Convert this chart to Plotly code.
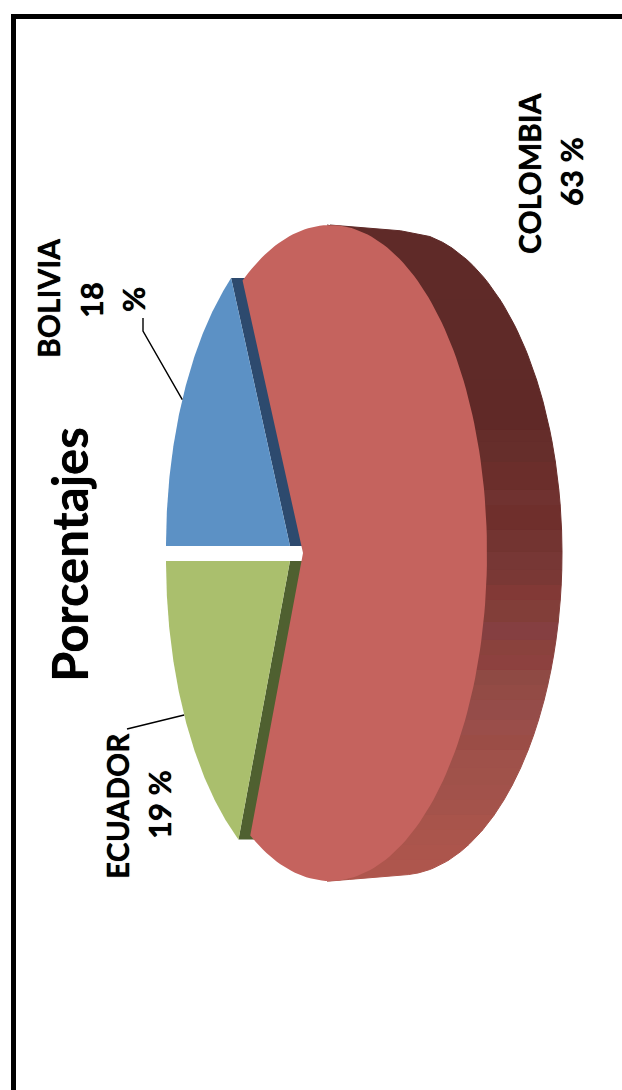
import numpy as np
import plotly.graph_objects as go

# ---- data ----
countries = ["BOLIVIA", "ECUADOR", "COLOMBIA"]
shares = [18, 19, 63]
title_text = "Porcentajes"

# ---- drawing styles ----
top_colors = {"BOLIVIA": "#5c91c5", "ECUADOR": "#aabf6d", "COLOMBIA": "#c5635e"}
wall_colors = {"BOLIVIA": "#2d4a6e", "ECUADOR": "#4f6030"}
FONT = "Lato"

# perspective frame of each slice: left edge, apex, right edge, half height, centre y (pixels)
frames = {
    "BOLIVIA": (166, 290, 484, 332, 546),
    "ECUADOR": (166, 290, 484, 332, 561),
    "COLOMBIA": (173, 303, 487, 328, 553),
}
BACK_RIGHT = 562
BACK_HALF_W, BACK_HALF_H = 162, 322

band_edges = [222, 300, 380, 430, 442, 462, 490, 505, 530, 552, 570, 585, 600, 622, 640, 655, 670,
              685, 700, 720, 735, 750, 768, 785, 800, 815, 830, 845, 860, 885]
band_colors = ["#5f2a28", "#5f2a28", "#602927", "#652d2a", "#662e2b", "#6b2e2b", "#703230", "#6f2f2c",
               "#733431", "#773735", "#7a3835", "#823936", "#823e39", "#853f41", "#8a423d", "#8d413f",
               "#8f4a44", "#934b45", "#954c49", "#9a4e4a", "#9b4d46", "#9f514a", "#a0524a", "#a2524b",
               "#a4534b", "#a8544b", "#aa554c", "#ac554c", "#ae564d"]


def project(frame, px, py):
    left, apex, right, half_h, cy = frame
    k = (2 * apex - left - right) / (right - left)
    a = apex - left * (1 - k)
    b = half_h * np.sqrt(1 - k * k)
    d = 1 + k * px
    return (apex + a * px) / d, cy - b * py / d


def wedge(frame, start, end, n=160):
    th = np.radians(np.linspace(start, end, n))
    x, y = project(frame, np.cos(th), np.sin(th))
    ax, ay = project(frame, 0.0, 0.0)
    return np.r_[ax, x, ax], np.r_[ay, y, ay]


def poly(x, y, color, line=0):
    return go.Scatter(x=x, y=y, mode="lines", fill="toself", fillcolor=color,
                      line=dict(color=color, width=line), hoverinfo="skip", showlegend=False)


span = {c: v / sum(shares) * 360 for c, v in zip(countries, shares)}
b_end = 180 - span["BOLIVIA"]
e_end = 180 + span["ECUADOR"]

fig = go.Figure()

# Colombia's outer wall: hull of the front ellipse and its pushed-back copy, in horizontal strips
left, apex, right, half_h, cy = frames["COLOMBIA"]
fx, fa = (left + right) / 2, (right - left) / 2
bx = BACK_RIGHT - BACK_HALF_W


def front_x(y):
    u = np.clip((y - cy) / half_h, -1, 1)
    return fx + fa * np.sqrt(1 - u * u)


t = np.radians(np.linspace(-90, 90, 361))
ox, oy = bx + BACK_HALF_W * np.cos(t), cy + BACK_HALF_H * np.sin(t)
# tangent lines closing the hull between the two ellipses
top_i = np.argmax((oy[:180] - (cy - half_h)) / (ox[:180] - fx + 1e-6) * -1)
bot_i = 180 + np.argmax((oy[180:] - (cy + half_h)) / (ox[180:] - fx + 1e-6))
hy = np.r_[cy - half_h, oy[top_i:bot_i + 1], cy + half_h]
hx = np.r_[fx, ox[top_i:bot_i + 1], fx]

for lo, hi, col in zip(band_edges[:-1], band_edges[1:], band_colors):
    ys = np.linspace(max(lo, cy - half_h), min(hi, cy + half_h), 14)
    xr = np.interp(ys, hy, hx)
    xl = front_x(ys) - 3
    fig.add_trace(poly(np.r_[xl, xr[::-1]], np.r_[ys, ys[::-1]], col, 1))

# inner walls of the two detached slices
for name, th in (("BOLIVIA", b_end), ("ECUADOR", e_end)):
    f = frames[name]
    ax, ay = project(f, 0.0, 0.0)
    ex, ey = project(f, np.cos(np.radians(th)), np.sin(np.radians(th)))
    fig.add_trace(poly([ax, ex, ex + 18, ax + 18, ax], [ay, ey, ey, ay, ay], wall_colors[name]))

# top faces
for name, (s, e) in (("BOLIVIA", (180, b_end)), ("ECUADOR", (180, e_end)), ("COLOMBIA", (e_end, b_end + 360))):
    x, y = wedge(frames[name], s, e)
    fig.add_trace(poly(x, y, top_colors[name]))

# leader lines from the middle of each small slice
mid_b = np.radians((180 + b_end) / 2)
mid_e = np.radians((180 + e_end) / 2)
lx, ly = project(frames["BOLIVIA"], np.cos(mid_b), np.sin(mid_b))
fig.add_trace(go.Scatter(x=[143, 143, lx], y=[318, 331, ly], mode="lines",
                         line=dict(color="black", width=1.4), hoverinfo="skip", showlegend=False))
lx, ly = project(frames["ECUADOR"], np.cos(mid_e), np.sin(mid_e))
fig.add_trace(go.Scatter(x=[127, lx], y=[729, ly], mode="lines",
                         line=dict(color="black", width=1.4), hoverinfo="skip", showlegend=False))

# outer frame
fig.add_trace(go.Scatter(x=[13.5, 13.5, 622], y=[1090, 16.5, 16.5], mode="lines",
                         line=dict(color="black", width=5), hoverinfo="skip", showlegend=False))


def label(x, y, text, size):
    fig.add_annotation(x=x, y=y, text=text, textangle=-90, showarrow=False,
                       xref="x", yref="y",
                       font=dict(family=FONT, size=size, color="black", weight=700,
                                 shadow="0 0 0.7px #000"))


label(69, 555, title_text, 49)
label(529, 174, countries[2], 30)
label(571, 172, f"{shares[2]} %", 31)
label(48, 299, countries[0], 30)
label(91, 300, f"{shares[0]}", 31)
label(133, 300, "%", 31)
label(117, 806, countries[1], 30)
label(159, 805, f"{shares[1]} %", 31)

fig.update_layout(width=622, height=1090, margin=dict(l=0, r=0, t=0, b=0), autosize=False,
                  paper_bgcolor="white", plot_bgcolor="white", showlegend=False,
                  xaxis=dict(range=[0, 622], visible=False, fixedrange=True),
                  yaxis=dict(range=[1090, 0], visible=False, fixedrange=True))

fig.write_html("out.html", post_script="document.body.style.margin='0';document.documentElement.style.overflow='hidden';",
               config={"displayModeBar": False})
